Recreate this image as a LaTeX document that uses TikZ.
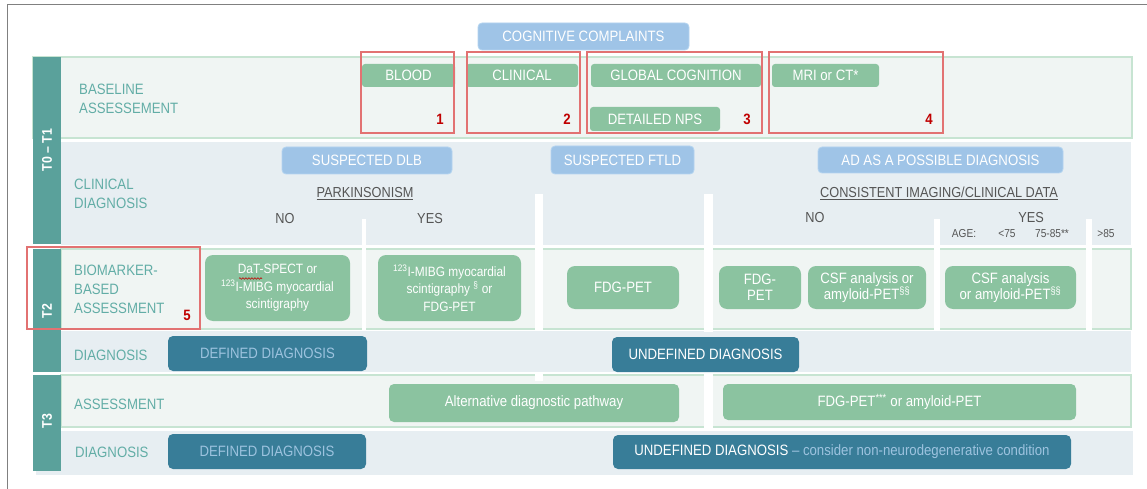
\documentclass[tikz,border=0pt]{standalone}
\usepackage{fontspec}
\setmainfont[FakeStretch=0.88]{Liberation Sans}
\usetikzlibrary{decorations.pathmorphing}
\definecolor{teal1}{HTML}{5AA19B}
\definecolor{labtxt}{HTML}{62ADA6}
\definecolor{lightbg}{HTML}{F0F5F3}
\definecolor{lightbd}{HTML}{C7E4D2}
\definecolor{bluebg}{HTML}{E7EEF2}
\definecolor{gbox}{HTML}{8BC3A0}
\definecolor{bbox}{HTML}{9FC4E7}
\definecolor{bboxbd}{HTML}{B4D4F0}
\definecolor{dbox}{HTML}{387D98}
\definecolor{muted}{HTML}{9DC3DF}
\definecolor{redbd}{HTML}{E27272}
\definecolor{rednum}{HTML}{C00000}
\definecolor{graytxt}{HTML}{555555}
\definecolor{framec}{HTML}{808080}
\tikzset{
  base/.style={inner sep=0pt, align=center, font=\fontsize{15}{17}\selectfont},
  greenbox/.style={base, fill=gbox, text=white, rounded corners=3pt},
  bluebox/.style={base, fill=bbox, draw=bboxbd, line width=0.8pt, text=white, rounded corners=4pt},
  biobox/.style={base, fill=gbox, text=white, rounded corners=8pt, font=\fontsize{13.5}{17.5}\selectfont},
  darkbox/.style={base, fill=dbox, text=white, rounded corners=5pt},
  rowlabel/.style={inner sep=0pt, anchor=west, align=left, text=labtxt, font=\fontsize{15}{19}\selectfont},
  grayt/.style={inner sep=0pt, text=graytxt, font=\fontsize{14.5}{17}\selectfont},
  smallt/.style={inner sep=0pt, text=graytxt, font=\fontsize{11.5}{13}\selectfont},
  redbox/.style={draw=redbd, line width=1.2pt},
  num/.style={inner sep=0pt, text=rednum, font=\bfseries\fontsize{15}{17}\selectfont},
  tlabel/.style={inner sep=0pt, text=white, rotate=90, font=\bfseries\fontsize{14}{16}\selectfont},
  lightrow/.style={fill=lightbg, draw=lightbd, line width=1.2pt},
  bluerow/.style={fill=bluebg},
  whitebar/.style={fill=white}
}
\begin{document}
\begin{tikzpicture}[x=1pt,y=-1pt]
\useasboundingbox (0,0) rectangle (1147,489);
\fill[white] (0,0) rectangle (1147,489);
% frame
\draw[framec, line width=1pt] (7,489) -- (7,5) -- (1147,5);
% rows
\draw[lightrow] (33,57) rectangle (1132,138);
\fill[bluerow] (61,142) rectangle (1131,245);
\draw[lightrow] (61,249) rectangle (1131,329);
\fill[bluerow] (61,331) rectangle (1131,372);
\draw[lightrow] (61,375) rectangle (1131,427);
\fill[bluerow] (36,431) rectangle (1133,475);
% white separators
\fill[whitebar] (362,219) rectangle (366,330);
\fill[whitebar] (535,194) rectangle (543,331);
\fill[whitebar] (535,372) rectangle (543,381);
\fill[whitebar] (704,194) rectangle (713,332);
\fill[whitebar] (704,372) rectangle (713,428);
\fill[whitebar] (934,219) rectangle (940,330);
\fill[whitebar] (1086,219) rectangle (1092,330);
% teal bars
\fill[teal1] (33,57) rectangle (61,244);
\fill[teal1] (33,249) rectangle (61,372);
\fill[teal1] (33,375) rectangle (61,471);
\node[tlabel] (t01) at (47,150) {T0 -- T1};
\node[tlabel] (t2) at (47,311) {T2};
\node[tlabel] (t3) at (47,421) {T3};
% row labels
\node[rowlabel] (lbase) at (79,98.5) {BASELINE\\ASSESSEMENT};
\node[rowlabel] (lclin) at (74,193.5) {CLINICAL\\DIAGNOSIS};
\node[rowlabel] (lbio) at (74,289) {BIOMARKER-\\BASED\\ASSESSMENT};
\node[rowlabel] (ldiag2) at (74,355) {DIAGNOSIS};
\node[rowlabel] (lass3) at (74,404) {ASSESSMENT};
\node[rowlabel] (ldiag3) at (75,452) {DIAGNOSIS};
% top
\node[bluebox, minimum width=211pt, minimum height=27pt] (cog) at (583.5,36.5) {COGNITIVE COMPLAINTS};
% baseline boxes
\node[greenbox, minimum width=93pt, minimum height=23pt] (blood) at (408.5,75.5) {BLOOD};
\node[greenbox, minimum width=112pt, minimum height=23pt] (clinical) at (522,75.5) {CLINICAL};
\node[greenbox, minimum width=170pt, minimum height=23pt] (global) at (676,75.5) {GLOBAL COGNITION};
\node[greenbox, minimum width=130pt, minimum height=24pt] (nps) at (655,119) {DETAILED NPS};
\node[greenbox, minimum width=107pt, minimum height=23pt] (mri) at (825.5,75.5) {MRI or CT*};
% clinical diagnosis
\node[bluebox, minimum width=170pt, minimum height=27pt] (dlb) at (367,160.5) {SUSPECTED DLB};
\node[bluebox, minimum width=143pt, minimum height=28pt] (ftld) at (622.5,160) {SUSPECTED FTLD};
\node[bluebox, minimum width=245pt, minimum height=26pt] (ad) at (940.5,160) {AD AS A POSSIBLE DIAGNOSIS};
\node[grayt] (park) at (365,194) {\underline{PARKINSONISM}};
\node[grayt] (no1) at (285,219) {NO};
\node[grayt] (yes1) at (430,219) {YES};
\node[grayt] (cons) at (939,193) {\underline{CONSISTENT IMAGING/CLINICAL DATA}};
\node[grayt] (no2) at (815,218) {NO};
\node[grayt] (yes2) at (1031,218) {YES};
\node[smallt] (age) at (964,234) {AGE:};
\node[smallt] (a1) at (1007,234) {<75};
\node[smallt] (a2) at (1052,234) {75-85**};
\node[smallt] (a3) at (1106,234) {>85};
% biomarker
\node[biobox, minimum width=145pt, minimum height=66pt] (dat) at (277.5,288) {DaT-SPECT or\\\textsuperscript{123}I-MIBG myocardial\\scintigraphy};
\draw[rednum, line width=0.6pt, decorate, decoration={snake, amplitude=0.8pt, segment length=3pt}] (239,278.5) -- (262,278.5);
\node[biobox, minimum width=143pt, minimum height=66pt] (mibg) at (449.5,288) {\textsuperscript{123}I-MIBG myocardial\\scintigraphy \textsuperscript{§} or\\FDG-PET};
\node[biobox, minimum width=112pt, minimum height=43pt, font=\fontsize{15}{17}\selectfont] (fdg1) at (623,287.5) {FDG-PET};
\node[biobox, minimum width=82pt, minimum height=43pt, font=\fontsize{15}{16}\selectfont] (fdg2) at (760,287.5) {FDG-\\PET};
\node[biobox, minimum width=118pt, minimum height=43pt, font=\fontsize{15}{16}\selectfont] (csf1) at (867,287.5) {CSF analysis or\\amyloid-PET\textsuperscript{§§}};
\node[biobox, minimum width=131pt, minimum height=43pt, font=\fontsize{15}{16}\selectfont] (csf2) at (1010.5,287.5) {CSF analysis\\or amyloid-PET\textsuperscript{§§}};
% diagnosis T2
\node[darkbox, minimum width=199pt, minimum height=35pt, text=muted] (def2) at (267.5,353.5) {DEFINED DIAGNOSIS};
\node[darkbox, minimum width=187pt, minimum height=35pt] (undef2) at (705.5,354.5) {UNDEFINED DIAGNOSIS};
% T3
\node[greenbox, rounded corners=5pt, minimum width=290pt, minimum height=38pt] (alt) at (534,403) {Alternative diagnostic pathway};
\node[greenbox, rounded corners=5pt, minimum width=353pt, minimum height=36pt] (fdg3) at (899.5,402) {FDG-PET\textsuperscript{***} or amyloid-PET};
\node[darkbox, minimum width=198pt, minimum height=35pt, text=muted] (def3) at (267,451.5) {DEFINED DIAGNOSIS};
\node[darkbox, minimum width=458pt, minimum height=34pt] (undef3) at (842,452) {UNDEFINED DIAGNOSIS \textcolor{muted}{-- consider non-neurodegenerative condition}};
% red boxes
\draw[redbox] (361,52) rectangle (454,133);
\draw[redbox] (467,52) rectangle (580,133);
\draw[redbox] (587,52) rectangle (762,133);
\draw[redbox] (769,52) rectangle (943,133);
\draw[redbox] (27,247) rectangle (200,329);
\node[num] (n1) at (440,119) {1};
\node[num] (n2) at (567,119) {2};
\node[num] (n3) at (747,119) {3};
\node[num] (n4) at (929,119) {4};
\node[num] (n5) at (187,315) {5};
\end{tikzpicture}
\end{document}
